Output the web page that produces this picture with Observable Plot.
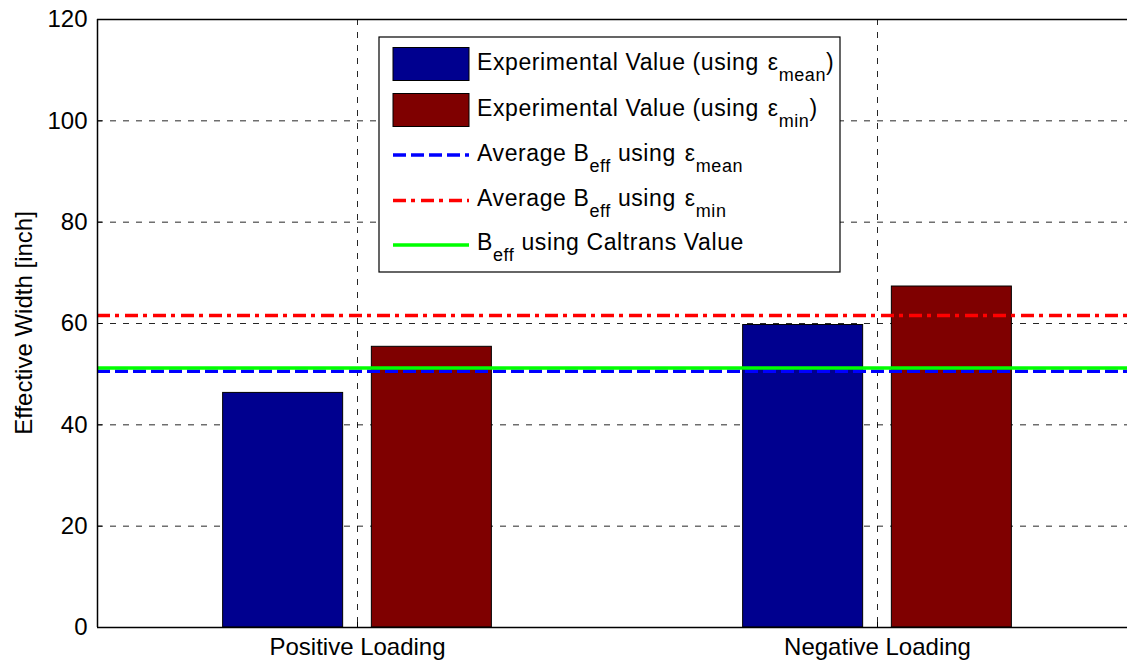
<!DOCTYPE html>
<html>
<head>
<meta charset="utf-8">
<script src="https://cdn.jsdelivr.net/npm/d3@7"></script>
<script src="https://cdn.jsdelivr.net/npm/@observablehq/plot@0.6"></script>
<style>
  body { margin: 0; background: #fff; }
  #chart svg { font-family: Arial, "Liberation Sans", sans-serif; }
</style>
</head>
<body>
<div id="chart"></div>
<script>
// ---- data ----
const categories = ["Positive Loading", "Negative Loading"];
const meanValues = [46.3, 59.7];
const minValues = [55.4, 67.3];
const avgMeanValue = [50.6];
const avgMinValue = [61.6];
const caltransValue = [51.2];
const yTicks = [0, 20, 40, 60, 80, 100, 120];
const gridTicks = [20, 40, 60, 80, 100];
const yLabel = "Effective Width [inch]";

// legend text pieces (text, subscript flag)
const legendTexts = [
  [["Experimental Value (using ", false], ["ε", false], ["mean", true], [")", false]],
  [["Experimental Value (using ", false], ["ε", false], ["min", true], [")", false]],
  [["Average B", false], ["eff", true], [" using ", false], ["ε", false], ["mean", true]],
  [["Average B", false], ["eff", true], [" using ", false], ["ε", false], ["min", true]],
  [["B", false], ["eff", true], [" using Caltrans Value", false]]
];

// ---- styles ----
const colBlue = "#00008f", colRed = "#7f0000";
const lineBlue = "#0000ff", lineRed = "#ff0000", lineGreen = "#00ff00";
const dashBlue = "13,5", dashRed = "13,5,4,6";
const barHalf = 0.1154, barOffset = 0.143;

const bars = [];
categories.forEach((c, i) => {
  bars.push({cat: i + 1, series: 0, value: meanValues[i]});
  bars.push({cat: i + 1, series: 1, value: minValues[i]});
});
const center = d => d.cat + (d.series === 0 ? -barOffset : barOffset);

const W = 1127, H = 662;
const plot = Plot.plot({
  width: W,
  height: H,
  marginLeft: 97, marginRight: 0, marginTop: 19, marginBottom: 35,
  style: {fontFamily: "Arial, 'Liberation Sans', sans-serif", fontSize: "24px", color: "#000", background: "#fff"},
  x: {type: "linear", domain: [0.5, 2.5], range: [97, 1137]},
  y: {domain: [0, 120], range: [627, 19]},
  marks: [
    Plot.gridY(gridTicks, {stroke: "#000", strokeOpacity: 0.85, strokeWidth: 1, strokeDasharray: "6,7"}),
    Plot.gridX([1, 2], {stroke: "#000", strokeOpacity: 0.85, strokeWidth: 1, strokeDasharray: "6,7"}),
    Plot.rectY(bars, {
      x1: d => center(d) - barHalf,
      x2: d => center(d) + barHalf,
      y1: 0, y2: "value",
      fill: d => d.series === 0 ? colBlue : colRed,
      stroke: "#000", strokeWidth: 1
    }),
    Plot.ruleY(avgMeanValue, {stroke: lineBlue, strokeWidth: 3.5, strokeDasharray: dashBlue}),
    Plot.ruleY(avgMinValue, {stroke: lineRed, strokeWidth: 3.5, strokeDasharray: dashRed}),
    Plot.ruleY(caltransValue, {stroke: lineGreen, strokeWidth: 3.5}),
    Plot.ruleY([0, 120], {stroke: "#000", strokeWidth: 1.5}),
    Plot.ruleX([0.5], {stroke: "#000", strokeWidth: 1.5}),
    Plot.axisY(yTicks, {tickSize: 0, tickPadding: 10, fontSize: 24, label: null}),
    Plot.axisY(yTicks, {tickSize: -5, tickFormat: () => "", label: null}),
    Plot.axisX([1, 2], {tickSize: 0, tickPadding: 10, fontSize: 24, label: null, tickFormat: v => categories[v - 1]}),
    Plot.axisX([1, 2], {tickSize: -5, tickFormat: () => "", label: null})
  ]
});

document.getElementById("chart").appendChild(plot);

// ---- y label ----
const svg = d3.select(plot);
svg.append("text")
  .attr("transform", "translate(23,323) rotate(-90)")
  .attr("text-anchor", "middle")
  .attr("dominant-baseline", "central")
  .attr("font-size", 24)
  .attr("fill", "#000")
  .text(yLabel);

// ---- legend ----
const lg = svg.append("g").attr("text-anchor", "start");
lg.append("rect").attr("x", 379).attr("y", 37).attr("width", 461).attr("height", 235)
  .attr("fill", "#fff").attr("stroke", "#000").attr("stroke-width", 1.2);
const rowY = [64, 110, 155, 200.5, 245];
lg.append("rect").attr("x", 393).attr("y", 47.5).attr("width", 76).attr("height", 33)
  .attr("fill", colBlue).attr("stroke", "#000").attr("stroke-width", 1);
lg.append("rect").attr("x", 393).attr("y", 93.5).attr("width", 76).attr("height", 33)
  .attr("fill", colRed).attr("stroke", "#000").attr("stroke-width", 1);
const lineSw = [[lineBlue, dashBlue], [lineRed, dashRed], [lineGreen, null]];
lineSw.forEach(([c, dash], k) => {
  const l = lg.append("line").attr("x1", 393).attr("x2", 469)
    .attr("y1", rowY[k + 2]).attr("y2", rowY[k + 2])
    .attr("stroke", c).attr("stroke-width", 3.5);
  if (dash) l.attr("stroke-dasharray", dash);
});
const baselines = [69.5, 116, 160.5, 205.5, 250];
legendTexts.forEach((parts, k) => {
  const t = lg.append("text").attr("x", 477).attr("y", baselines[k])
    .attr("text-anchor", "start")
    .attr("font-size", 23).attr("letter-spacing", 0.6).attr("fill", "#000")
    .style("white-space", "pre");
  let shifted = false;
  parts.forEach(([s, sub]) => {
    const ts = t.append("tspan").text(s);
    if (sub && !shifted) { ts.attr("dy", 11).attr("font-size", 18); shifted = true; }
    else if (sub) { ts.attr("font-size", 18); }
    else if (!sub && shifted) { ts.attr("dy", -11); shifted = false; }
    if (s === "ε") ts.attr("dx", 2);
  });
});
</script>
</body>
</html>
